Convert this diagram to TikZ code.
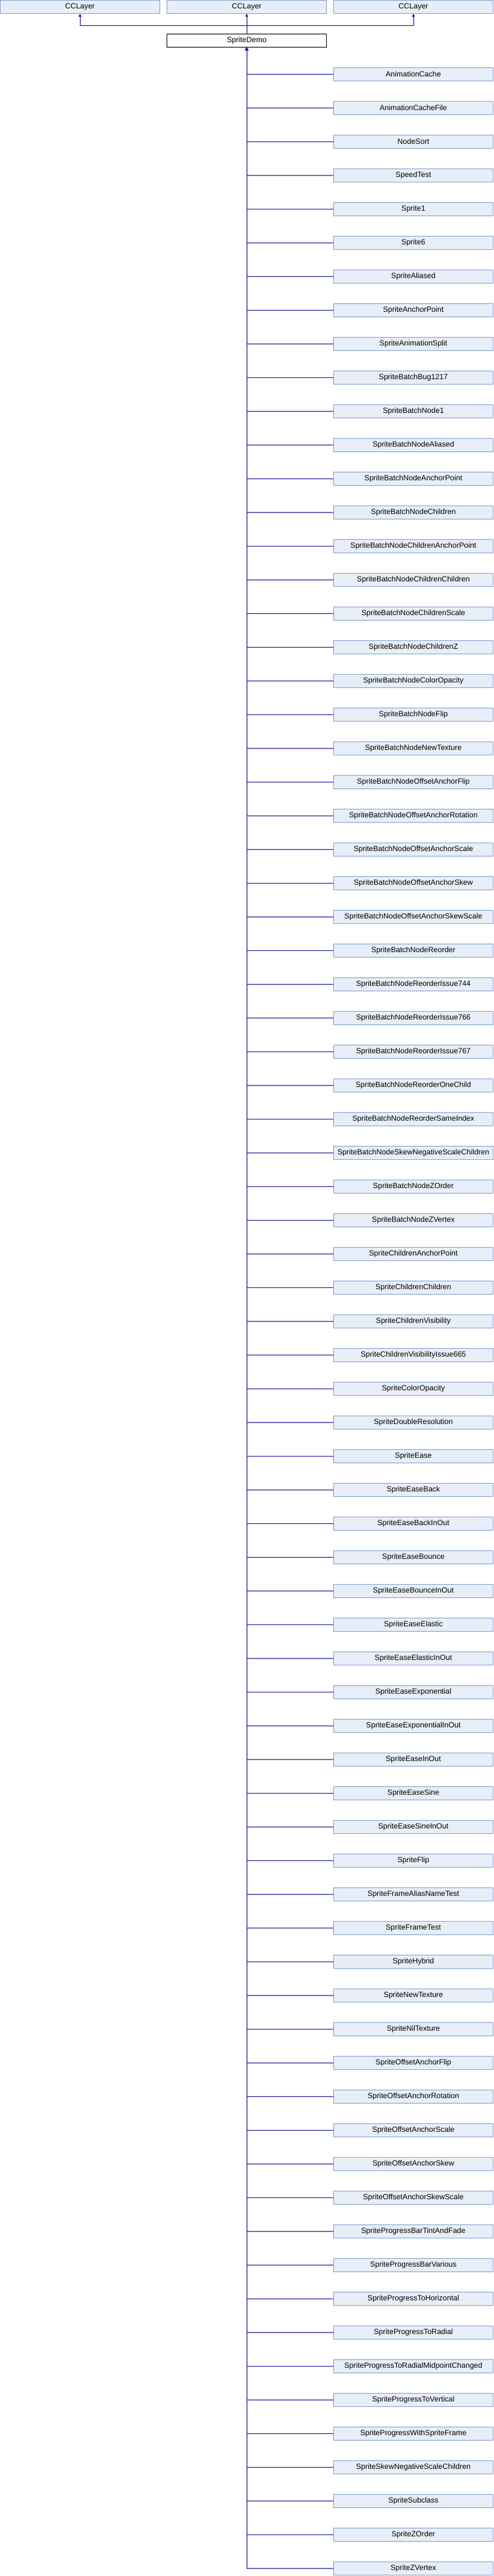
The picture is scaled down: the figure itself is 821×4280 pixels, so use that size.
\documentclass[tikz,border=0pt]{standalone}
\usepackage{fontspec}
\setmainfont{Liberation Sans}
\usepackage{tikz}
\usetikzlibrary{positioning, arrows.meta}
\definecolor{boxfill}{HTML}{E8EEF7}
\definecolor{boxline}{HTML}{7F9CCF}
\definecolor{navy}{HTML}{0A0A96}
\tikzstyle{Class} = [
draw=boxline, fill=boxfill, line width=1pt,
minimum width=265pt, minimum height=22pt, inner sep=0pt,
font=\fontsize{12.5}{14}\selectfont]
\tikzstyle{Demo} = [Class, draw=black, fill=white]
\tikzstyle{Arrow} = [
draw=navy, line width=1pt,
-{Triangle[length=4.5pt, width=4.5pt]}]

\begin{document}
\begin{tikzpicture}[x=1pt, y=1pt]
    \useasboundingbox (0,0) rectangle (821,-4280);
    \node [Class](1) at (133,-11.5){CCLayer};
    \node [Class](2) at (410,-11.5){CCLayer};
    \node [Class](3) at (687,-11.5){CCLayer};
    \node [Demo](4) at (410,-67.5){SpriteDemo};

    \node [Class](5) at (687,-123.5){AnimationCache};
    \node [Class](6) at (687,-179.5){AnimationCacheFile};
    \node [Class](7) at (687,-235.5){NodeSort};
    \node [Class](8) at (687,-291.5){SpeedTest};
    \node [Class](9) at (687,-347.5){Sprite1};
    \node [Class](10) at (687,-403.5){Sprite6};
    \node [Class](11) at (687,-459.5){SpriteAliased};
    \node [Class](12) at (687,-515.5){SpriteAnchorPoint};
    \node [Class](13) at (687,-571.5){SpriteAnimationSplit};
    \node [Class](14) at (687,-627.5){SpriteBatchBug1217};
    \node [Class](15) at (687,-683.5){SpriteBatchNode1};
    \node [Class](16) at (687,-739.5){SpriteBatchNodeAliased};
    \node [Class](17) at (687,-795.5){SpriteBatchNodeAnchorPoint};
    \node [Class](18) at (687,-851.5){SpriteBatchNodeChildren};
    \node [Class](19) at (687,-907.5){SpriteBatchNodeChildrenAnchorPoint};
    \node [Class](20) at (687,-963.5){SpriteBatchNodeChildrenChildren};
    \node [Class](21) at (687,-1019.5){SpriteBatchNodeChildrenScale};
    \node [Class](22) at (687,-1075.5){SpriteBatchNodeChildrenZ};
    \node [Class](23) at (687,-1131.5){SpriteBatchNodeColorOpacity};
    \node [Class](24) at (687,-1187.5){SpriteBatchNodeFlip};
    \node [Class](25) at (687,-1243.5){SpriteBatchNodeNewTexture};
    \node [Class](26) at (687,-1299.5){SpriteBatchNodeOffsetAnchorFlip};
    \node [Class](27) at (687,-1355.5){SpriteBatchNodeOffsetAnchorRotation};
    \node [Class](28) at (687,-1411.5){SpriteBatchNodeOffsetAnchorScale};
    \node [Class](29) at (687,-1467.5){SpriteBatchNodeOffsetAnchorSkew};
    \node [Class](30) at (687,-1523.5){SpriteBatchNodeOffsetAnchorSkewScale};
    \node [Class](31) at (687,-1579.5){SpriteBatchNodeReorder};
    \node [Class](32) at (687,-1635.5){SpriteBatchNodeReorderIssue744};
    \node [Class](33) at (687,-1691.5){SpriteBatchNodeReorderIssue766};
    \node [Class](34) at (687,-1747.5){SpriteBatchNodeReorderIssue767};
    \node [Class](35) at (687,-1803.5){SpriteBatchNodeReorderOneChild};
    \node [Class](36) at (687,-1859.5){SpriteBatchNodeReorderSameIndex};
    \node [Class](37) at (687,-1915.5){SpriteBatchNodeSkewNegativeScaleChildren};
    \node [Class](38) at (687,-1971.5){SpriteBatchNodeZOrder};
    \node [Class](39) at (687,-2027.5){SpriteBatchNodeZVertex};
    \node [Class](40) at (687,-2083.5){SpriteChildrenAnchorPoint};
    \node [Class](41) at (687,-2139.5){SpriteChildrenChildren};
    \node [Class](42) at (687,-2195.5){SpriteChildrenVisibility};
    \node [Class](43) at (687,-2251.5){SpriteChildrenVisibilityIssue665};
    \node [Class](44) at (687,-2307.5){SpriteColorOpacity};
    \node [Class](45) at (687,-2363.5){SpriteDoubleResolution};
    \node [Class](46) at (687,-2419.5){SpriteEase};
    \node [Class](47) at (687,-2475.5){SpriteEaseBack};
    \node [Class](48) at (687,-2531.5){SpriteEaseBackInOut};
    \node [Class](49) at (687,-2587.5){SpriteEaseBounce};
    \node [Class](50) at (687,-2643.5){SpriteEaseBounceInOut};
    \node [Class](51) at (687,-2699.5){SpriteEaseElastic};
    \node [Class](52) at (687,-2755.5){SpriteEaseElasticInOut};
    \node [Class](53) at (687,-2811.5){SpriteEaseExponential};
    \node [Class](54) at (687,-2867.5){SpriteEaseExponentialInOut};
    \node [Class](55) at (687,-2923.5){SpriteEaseInOut};
    \node [Class](56) at (687,-2979.5){SpriteEaseSine};
    \node [Class](57) at (687,-3035.5){SpriteEaseSineInOut};
    \node [Class](58) at (687,-3091.5){SpriteFlip};
    \node [Class](59) at (687,-3147.5){SpriteFrameAliasNameTest};
    \node [Class](60) at (687,-3203.5){SpriteFrameTest};
    \node [Class](61) at (687,-3259.5){SpriteHybrid};
    \node [Class](62) at (687,-3315.5){SpriteNewTexture};
    \node [Class](63) at (687,-3371.5){SpriteNilTexture};
    \node [Class](64) at (687,-3427.5){SpriteOffsetAnchorFlip};
    \node [Class](65) at (687,-3483.5){SpriteOffsetAnchorRotation};
    \node [Class](66) at (687,-3539.5){SpriteOffsetAnchorScale};
    \node [Class](67) at (687,-3595.5){SpriteOffsetAnchorSkew};
    \node [Class](68) at (687,-3651.5){SpriteOffsetAnchorSkewScale};
    \node [Class](69) at (687,-3707.5){SpriteProgressBarTintAndFade};
    \node [Class](70) at (687,-3763.5){SpriteProgressBarVarious};
    \node [Class](71) at (687,-3819.5){SpriteProgressToHorizontal};
    \node [Class](72) at (687,-3875.5){SpriteProgressToRadial};
    \node [Class](73) at (687,-3931.5){SpriteProgressToRadialMidpointChanged};
    \node [Class](74) at (687,-3987.5){SpriteProgressToVertical};
    \node [Class](75) at (687,-4043.5){SpriteProgressWithSpriteFrame};
    \node [Class](76) at (687,-4099.5){SpriteSkewNegativeScaleChildren};
    \node [Class](77) at (687,-4155.5){SpriteSubclass};
    \node [Class](78) at (687,-4211.5){SpriteZOrder};
    \node [Class](79) at (687,-4267.5){SpriteZVertex};

    \draw [Arrow] (4) to (2);
    \draw [Arrow] (4.north) -- ++(0,14) -| (1.south);
    \draw [Arrow] (4.north) -- ++(0,14) -| (3.south);

    \draw [Arrow] (5.west) -| (4.south);
    \draw [Arrow] (6.west) -| (4.south);
    \draw [Arrow] (7.west) -| (4.south);
    \draw [Arrow] (8.west) -| (4.south);
    \draw [Arrow] (9.west) -| (4.south);
    \draw [Arrow] (10.west) -| (4.south);
    \draw [Arrow] (11.west) -| (4.south);
    \draw [Arrow] (12.west) -| (4.south);
    \draw [Arrow] (13.west) -| (4.south);
    \draw [Arrow] (14.west) -| (4.south);
    \draw [Arrow] (15.west) -| (4.south);
    \draw [Arrow] (16.west) -| (4.south);
    \draw [Arrow] (17.west) -| (4.south);
    \draw [Arrow] (18.west) -| (4.south);
    \draw [Arrow] (19.west) -| (4.south);
    \draw [Arrow] (20.west) -| (4.south);
    \draw [Arrow] (21.west) -| (4.south);
    \draw [Arrow] (22.west) -| (4.south);
    \draw [Arrow] (23.west) -| (4.south);
    \draw [Arrow] (24.west) -| (4.south);
    \draw [Arrow] (25.west) -| (4.south);
    \draw [Arrow] (26.west) -| (4.south);
    \draw [Arrow] (27.west) -| (4.south);
    \draw [Arrow] (28.west) -| (4.south);
    \draw [Arrow] (29.west) -| (4.south);
    \draw [Arrow] (30.west) -| (4.south);
    \draw [Arrow] (31.west) -| (4.south);
    \draw [Arrow] (32.west) -| (4.south);
    \draw [Arrow] (33.west) -| (4.south);
    \draw [Arrow] (34.west) -| (4.south);
    \draw [Arrow] (35.west) -| (4.south);
    \draw [Arrow] (36.west) -| (4.south);
    \draw [Arrow] (37.west) -| (4.south);
    \draw [Arrow] (38.west) -| (4.south);
    \draw [Arrow] (39.west) -| (4.south);
    \draw [Arrow] (40.west) -| (4.south);
    \draw [Arrow] (41.west) -| (4.south);
    \draw [Arrow] (42.west) -| (4.south);
    \draw [Arrow] (43.west) -| (4.south);
    \draw [Arrow] (44.west) -| (4.south);
    \draw [Arrow] (45.west) -| (4.south);
    \draw [Arrow] (46.west) -| (4.south);
    \draw [Arrow] (47.west) -| (4.south);
    \draw [Arrow] (48.west) -| (4.south);
    \draw [Arrow] (49.west) -| (4.south);
    \draw [Arrow] (50.west) -| (4.south);
    \draw [Arrow] (51.west) -| (4.south);
    \draw [Arrow] (52.west) -| (4.south);
    \draw [Arrow] (53.west) -| (4.south);
    \draw [Arrow] (54.west) -| (4.south);
    \draw [Arrow] (55.west) -| (4.south);
    \draw [Arrow] (56.west) -| (4.south);
    \draw [Arrow] (57.west) -| (4.south);
    \draw [Arrow] (58.west) -| (4.south);
    \draw [Arrow] (59.west) -| (4.south);
    \draw [Arrow] (60.west) -| (4.south);
    \draw [Arrow] (61.west) -| (4.south);
    \draw [Arrow] (62.west) -| (4.south);
    \draw [Arrow] (63.west) -| (4.south);
    \draw [Arrow] (64.west) -| (4.south);
    \draw [Arrow] (65.west) -| (4.south);
    \draw [Arrow] (66.west) -| (4.south);
    \draw [Arrow] (67.west) -| (4.south);
    \draw [Arrow] (68.west) -| (4.south);
    \draw [Arrow] (69.west) -| (4.south);
    \draw [Arrow] (70.west) -| (4.south);
    \draw [Arrow] (71.west) -| (4.south);
    \draw [Arrow] (72.west) -| (4.south);
    \draw [Arrow] (73.west) -| (4.south);
    \draw [Arrow] (74.west) -| (4.south);
    \draw [Arrow] (75.west) -| (4.south);
    \draw [Arrow] (76.west) -| (4.south);
    \draw [Arrow] (77.west) -| (4.south);
    \draw [Arrow] (78.west) -| (4.south);
    \draw [Arrow] (79.west) -| (4.south);
\end{tikzpicture}
\end{document}
